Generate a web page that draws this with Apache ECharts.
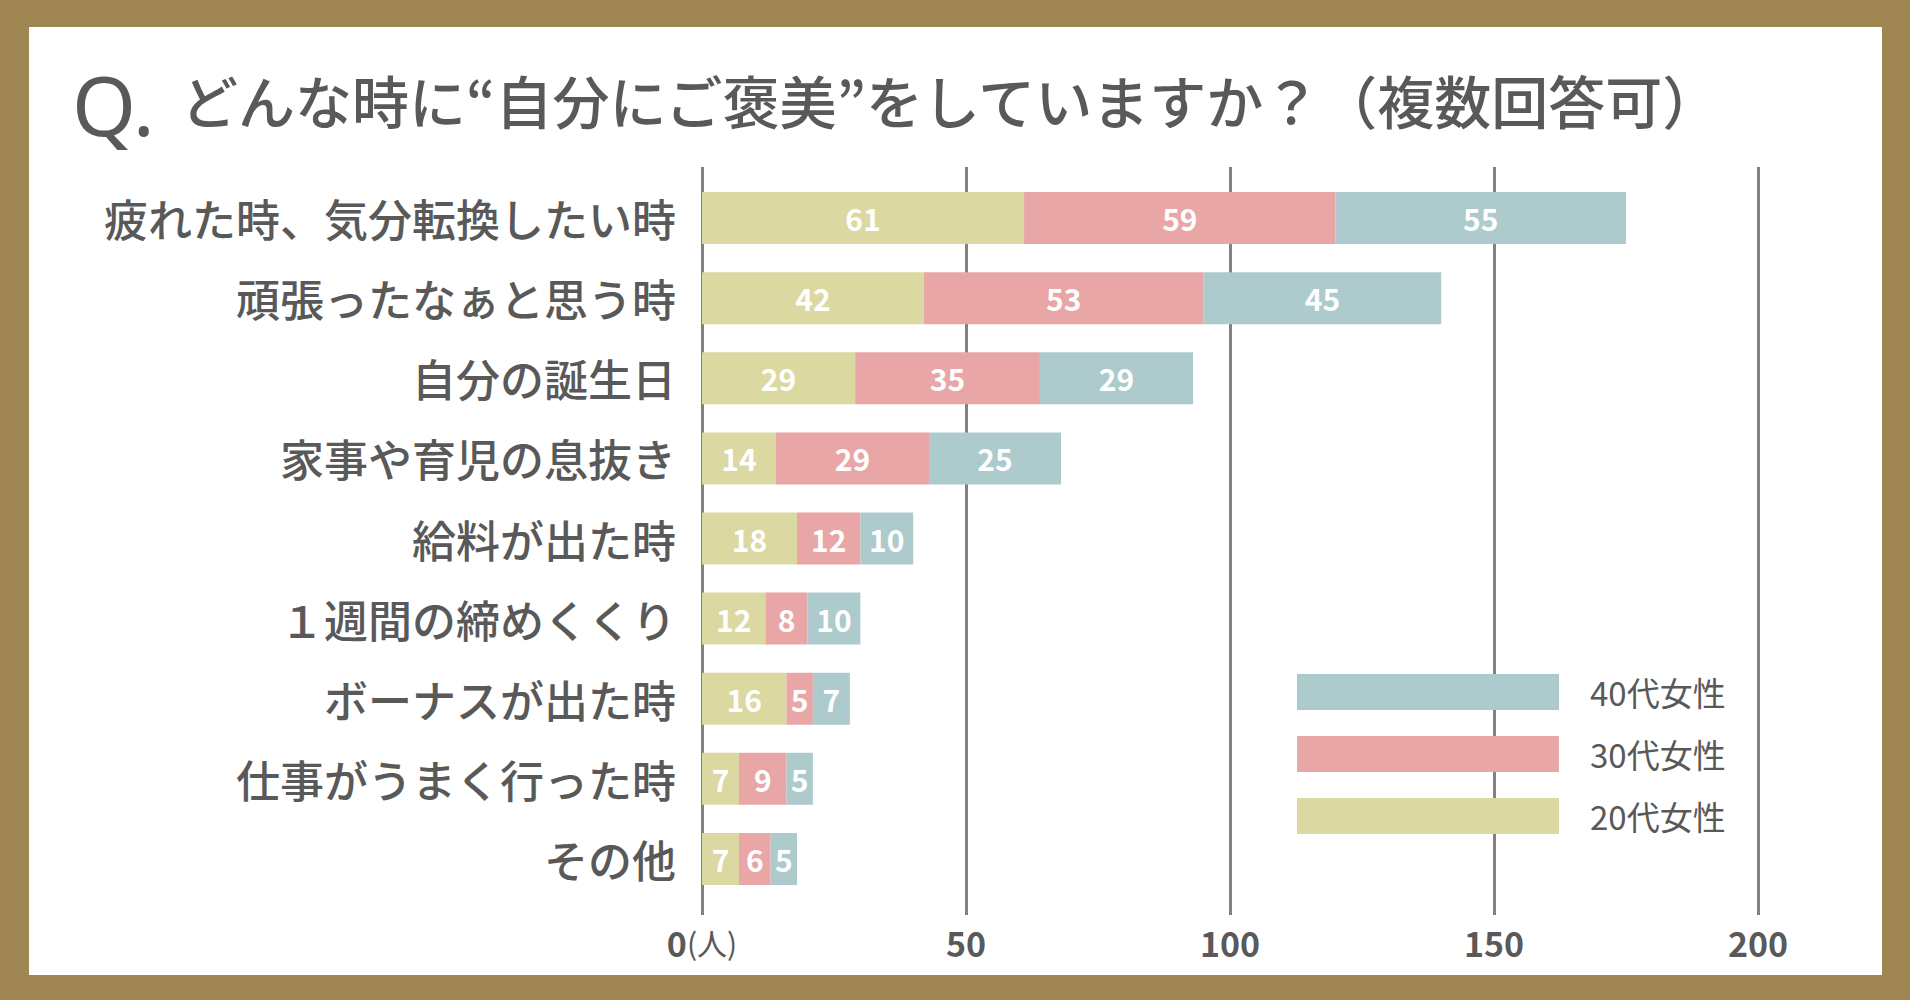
<!DOCTYPE html>
<html>
<head>
<meta charset="utf-8">
<script src="https://cdn.jsdelivr.net/npm/echarts@6/dist/echarts.min.js"></script>
<style>
html,body{margin:0;padding:0;background:#9e8551;}
#c{width:1910px;height:1000px;}
</style>
</head>
<body>
<div id="c"></div>
<script>
const titleQ = 'Q.';
const titleText = 'どんな時に“自分にご褒美”をしていますか？（複数回答可）';
const categories = ['疲れた時、気分転換したい時','頑張ったなぁと思う時','自分の誕生日','家事や育児の息抜き','給料が出た時','１週間の締めくくり','ボーナスが出た時','仕事がうまく行った時','その他'];
const seriesNames = ['20代女性','30代女性','40代女性'];
const legendOrder = ['40代女性','30代女性','20代女性'];
const s20 = [61,42,29,14,18,12,16,7,7];
const s30 = [59,53,35,29,12,8,5,9,6];
const s40 = [55,45,29,25,10,10,7,5,5];
const xTicks = [0,50,100,150,200];
const xUnit = '(人)';

const TXT = '#5a5959';
const FONT = '"Noto Sans CJK JP","Noto Sans",sans-serif';
const colors = ['#dbd8a2','#e9a6a6','#adcacd'];
const values = [s20,s30,s40];

const chart = echarts.init(document.getElementById('c'), null, {renderer:'svg'});
const option = {
  backgroundColor:'#9e8551',
  animation:false,
  textStyle:{fontFamily:FONT},
  graphic:[
    {type:'rect', z:-10, shape:{x:29,y:27,width:1853,height:948}, style:{fill:'#ffffff'}},
    {type:'text', x:72, y:104, style:{text:titleQ, font:'400 82px "Noto Sans",sans-serif', fill:TXT, textVerticalAlign:'middle'}},
    {type:'text', x:181, y:99, style:{text:titleText, font:'500 57px '+FONT, fill:TXT, textVerticalAlign:'middle'}}
  ],
  legend:{
    data:legendOrder, orient:'vertical', left:1292, top:669,
    itemWidth:262, itemHeight:36, itemGap:26, icon:'rect',
    textStyle:{fontSize:33, color:TXT, fontFamily:FONT, padding:[0,0,0,26]}
  },
  grid:[
    {left:702, right:152, top:178, bottom:101},
    {left:702, right:152, top:167, bottom:85}
  ],
  xAxis:[
    {gridIndex:0, type:'value', min:xTicks[0], max:xTicks[xTicks.length-1], interval:xTicks[1]-xTicks[0],
     axisLine:{show:false}, axisTick:{show:false}, axisLabel:{show:false}, splitLine:{show:false}},
    {gridIndex:1, type:'value', min:xTicks[0], max:xTicks[xTicks.length-1], interval:xTicks[1]-xTicks[0],
     axisLine:{show:false}, axisTick:{show:false},
     splitLine:{show:true, lineStyle:{color:'#857f80', width:3}},
     axisLabel:{margin:10, formatter:function(v){return v===0?'{b|0}{s|'+xUnit+'}':'{b|'+v+'}';},
       rich:{b:{fontSize:34, fontWeight:'bold', color:TXT, fontFamily:FONT},
             s:{fontSize:30, color:TXT, fontFamily:FONT}}}}
  ],
  yAxis:[
    {gridIndex:0, type:'category', data:categories, inverse:true,
     axisLine:{show:false}, axisTick:{show:false}, splitLine:{show:false},
     axisLabel:{fontSize:44, fontWeight:500, color:TXT, margin:26, fontFamily:FONT}},
    {gridIndex:1, type:'value', min:0, max:1, show:false}
  ],
  series:[
    {type:'scatter', xAxisIndex:1, yAxisIndex:1, data:[], silent:true}
  ].concat(seriesNames.map(function(n,i){
    return {
      name:n, type:'bar', stack:'total', xAxisIndex:0, yAxisIndex:0,
      barWidth:52, z:5,
      itemStyle:{color:colors[i]},
      label:{show:true, position:'inside', color:'#ffffff', fontSize:30, fontWeight:'bold', fontFamily:FONT},
      data:values[i]
    };
  }))
};
chart.setOption(option);
</script>
</body>
</html>
